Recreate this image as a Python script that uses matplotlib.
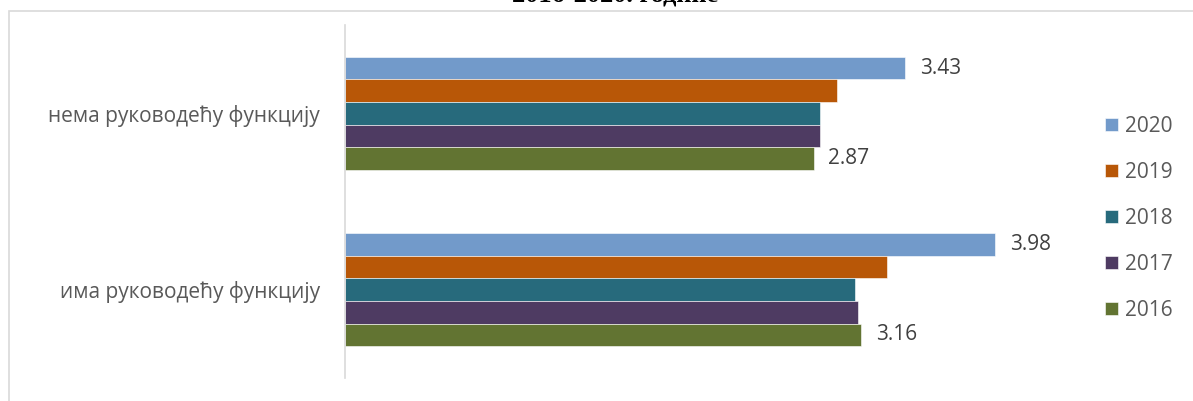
import matplotlib.pyplot as plt
from matplotlib.patches import Rectangle

plt.rcParams['font.family'] = ['Open Sans', 'DejaVu Sans']

# Data
categories = ["нема руководећу функцију", "има руководећу функцију"]
years = ["2020", "2019", "2018", "2017", "2016"]
values = {
    "2020": [3.43, 3.98],
    "2019": [3.01, 3.32],
    "2018": [2.91, 3.12],
    "2017": [2.91, 3.14],
    "2016": [2.87, 3.16],
}
labelled_years = ["2020", "2016"]
title = "2016-2020. године"

colors = {
    "2020": "#729aca",
    "2019": "#b85707",
    "2018": "#276a7c",
    "2017": "#4e3b62",
    "2016": "#627432",
}

W, H = 1193, 401
fig = plt.figure(figsize=(W / 100, H / 100), dpi=100)
ax = fig.add_axes([345 / W, 1 - 378 / H, (1080 - 345) / W, (378 - 25) / H])

bar_h = 0.128
n = len(years)
for i, yr in enumerate(years):
    offset = (i - (n - 1) / 2) * bar_h
    pos = [c + offset for c in range(len(categories))]
    bars = ax.barh(pos, values[yr], height=bar_h, color=colors[yr],
                   edgecolor="white", linewidth=0.4, label=yr)
    # data labels only on the outer bars, like in the original
    if yr in labelled_years:
        for b, v in zip(bars, values[yr]):
            ax.text(v + 0.09, b.get_y() + b.get_height() / 2, f"{v:.2f}",
                    va="center", ha="left", fontsize=15, color="#404040")

ax.set_ylim(len(categories) - 0.5, -0.5)
ax.set_xlim(0, 4.5)
ax.set_yticks(range(len(categories)))
ax.set_yticklabels(categories, fontsize=15, color="#595959")
ax.tick_params(axis="y", length=0, pad=18)
ax.set_xticks([])
for s in ["top", "right", "bottom"]:
    ax.spines[s].set_visible(False)
ax.spines["left"].set_color("#d9d9d9")
ax.spines["left"].set_linewidth(1.2)

leg = fig.legend(loc="center left", bbox_to_anchor=(1095 / W, 1 - 218 / H),
                 frameon=False, fontsize=15, labelcolor="#595959",
                 handlelength=0.58, handleheight=0.58, handletextpad=0.35,
                 labelspacing=1.2, borderpad=0)

# outer chart frame
fig.patches.append(Rectangle((9 / W, -0.1), 1.2, 1 - 11 / H + 0.1,
                             transform=fig.transFigure, fill=False,
                             edgecolor="#d9d9d9", linewidth=1.2))

# title, mostly cut off by the top edge (as in the source picture)
fig.text(615 / W, 1 - 2 / H, title, ha="center", va="baseline",
         fontsize=19, fontweight="bold", family="Liberation Serif")

fig.savefig("out.png", dpi=100)
